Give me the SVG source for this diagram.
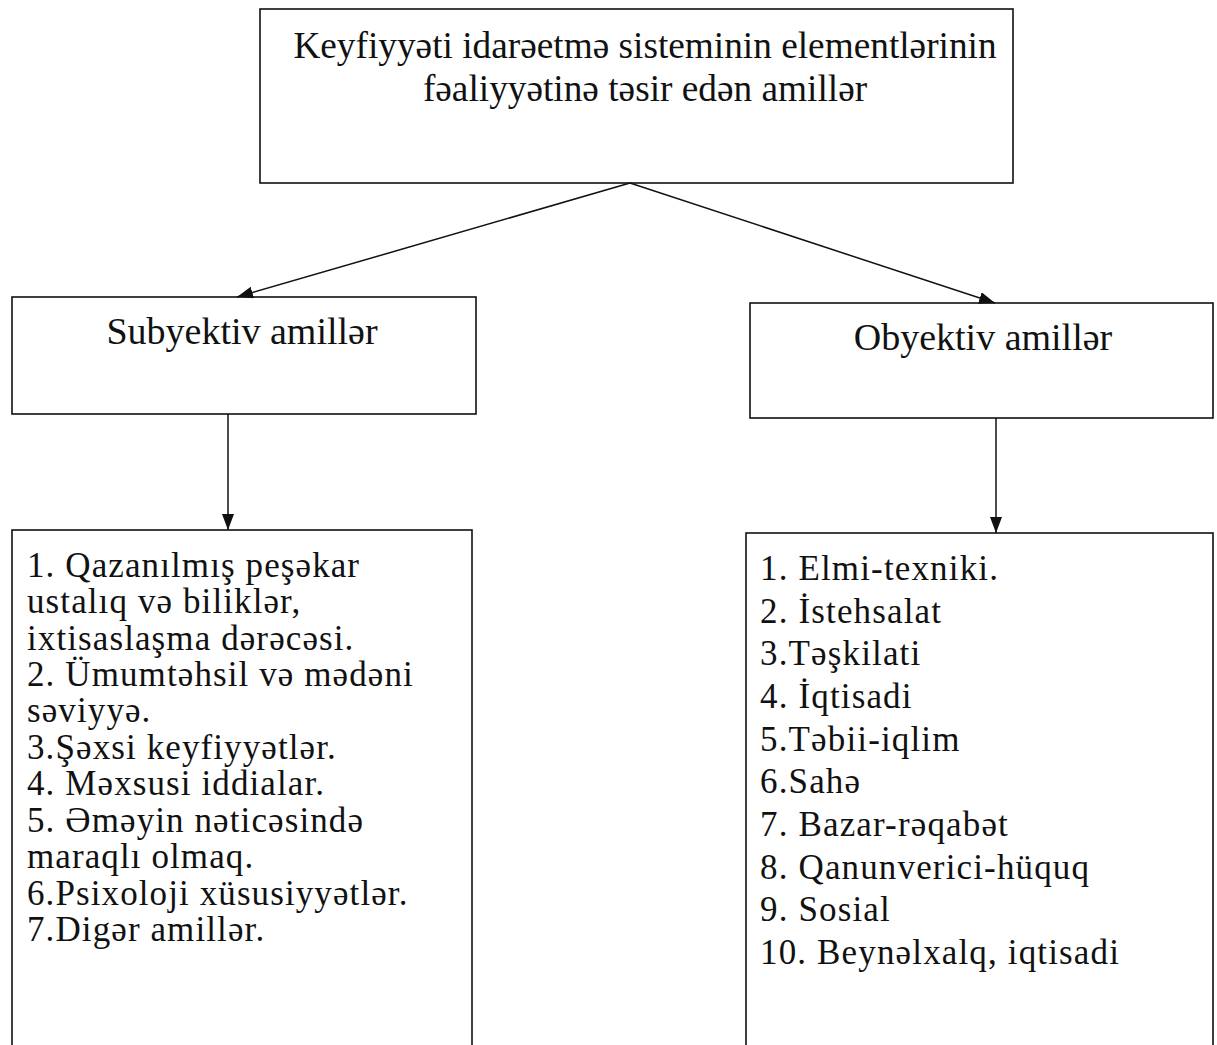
<svg xmlns="http://www.w3.org/2000/svg" width="1217" height="1045" viewBox="0 0 1217 1045">
<style>
.box{fill:#fff;stroke:#111;stroke-width:1.6}
.t{font-family:"Liberation Serif","Times New Roman",serif;fill:#111}
.title{font-size:37.3px;text-anchor:middle}
.head{font-size:38px;text-anchor:middle}
.list{font-size:35px;letter-spacing:1.1px}
.rl{font-size:35px;letter-spacing:1.15px}
.conn{stroke:#111;stroke-width:1.5;fill:none}
</style>
<defs>
<marker id="ah" viewBox="0 0 16 12" refX="16" refY="6" markerWidth="16" markerHeight="12" markerUnits="userSpaceOnUse" orient="auto">
<path d="M0,0 L16,6 L0,12 Z" fill="#111"/>
</marker>
</defs>
<rect width="1217" height="1045" fill="#fff"/>
<g id="top">
<rect class="box" x="260" y="9" width="753" height="174"/>
<text class="t title" x="645" y="58">Keyfiyyəti idarəetmə sisteminin elementlərinin</text>
<text class="t title" x="645" y="101">fəaliyyətinə təsir edən amillər</text>
</g>
<g id="subyektiv">
<rect class="box" x="12" y="297" width="464" height="117"/>
<text class="t head" x="242" y="344">Subyektiv amillər</text>
</g>
<g id="obyektiv">
<rect class="box" x="750" y="303" width="463" height="115"/>
<text class="t head" x="983" y="350">Obyektiv amillər</text>
</g>
<g id="subyektiv-list">
<rect class="box" x="12" y="530" width="460" height="530"/>
<text class="t list" x="27" y="577">1. Qazanılmış peşəkar</text>
<text class="t list" x="27" y="613">ustalıq və biliklər,</text>
<text class="t list" x="27" y="650">ixtisaslaşma dərəcəsi.</text>
<text class="t list" x="27" y="686">2. Ümumtəhsil və mədəni</text>
<text class="t list" x="27" y="722">səviyyə.</text>
<text class="t list" x="27" y="759">3.Şəxsi keyfiyyətlər.</text>
<text class="t list" x="27" y="795">4. Məxsusi iddialar.</text>
<text class="t list" x="27" y="832">5. Əməyin nəticəsində</text>
<text class="t list" x="27" y="868">maraqlı olmaq.</text>
<text class="t list" x="27" y="905">6.Psixoloji xüsusiyyətlər.</text>
<text class="t list" x="27" y="941">7.Digər amillər.</text>
</g>
<g id="obyektiv-list">
<rect class="box" x="746" y="533" width="467" height="530"/>
<text class="t rl" x="760" y="580">1. Elmi-texniki.</text>
<text class="t rl" x="760" y="623">2. İstehsalat</text>
<text class="t rl" x="760" y="665">3.Təşkilati</text>
<text class="t rl" x="760" y="708">4. İqtisadi</text>
<text class="t rl" x="760" y="751">5.Təbii-iqlim</text>
<text class="t rl" x="760" y="793">6.Sahə</text>
<text class="t rl" x="760" y="836">7. Bazar-rəqabət</text>
<text class="t rl" x="760" y="879">8. Qanunverici-hüquq</text>
<text class="t rl" x="760" y="921">9. Sosial</text>
<text class="t rl" x="760" y="964">10. Beynəlxalq, iqtisadi</text>
</g>
<g id="connectors">
<line class="conn" x1="630" y1="183" x2="237" y2="297" marker-end="url(#ah)"/>
<line class="conn" x1="630" y1="183" x2="995" y2="303" marker-end="url(#ah)"/>
<line class="conn" x1="228" y1="414" x2="228" y2="530" marker-end="url(#ah)"/>
<line class="conn" x1="996" y1="418" x2="996" y2="533" marker-end="url(#ah)"/>
</g>
</svg>
